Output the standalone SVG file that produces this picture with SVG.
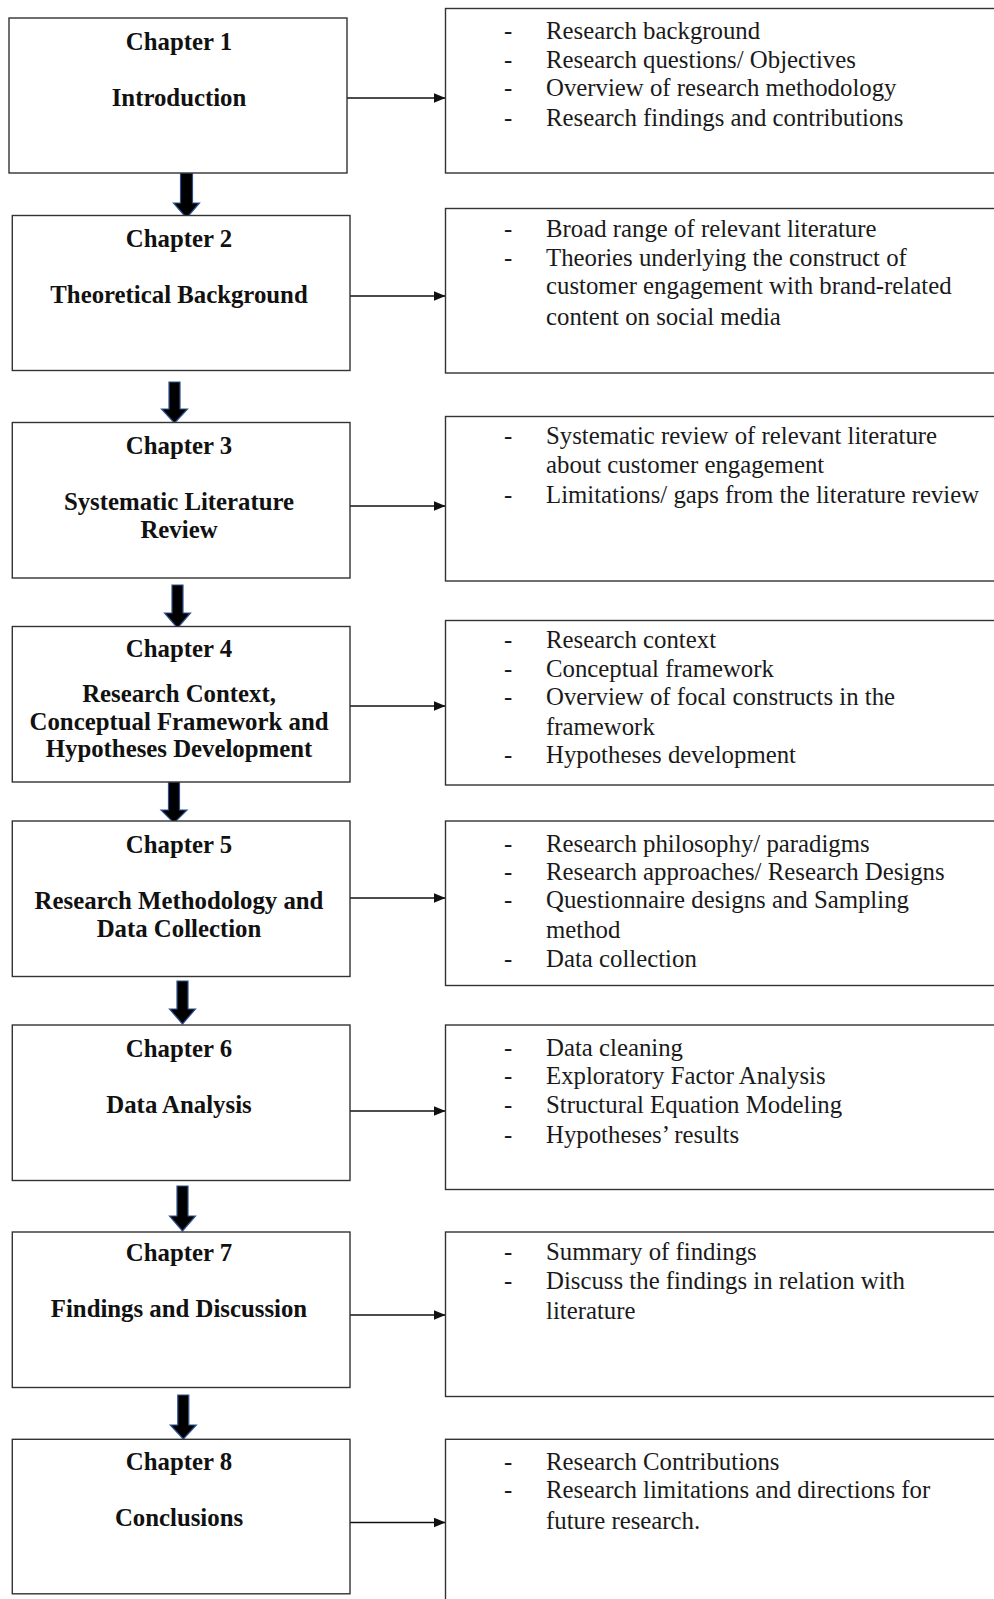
<svg xmlns="http://www.w3.org/2000/svg" width="994" height="1599" viewBox="0 0 994 1599">
  <defs>
    <style>
      .box { fill: #ffffff; stroke: #333333; stroke-width: 1.4; }
      .title { font-family: "Liberation Serif", "Times New Roman", serif; font-weight: bold; font-size: 24.8px; fill: #111111; text-anchor: middle; }
      .item { font-family: "Liberation Serif", "Times New Roman", serif; font-size: 24.8px; fill: #1a1a1a; }
      .link { stroke: #111111; stroke-width: 1.4; fill: none; marker-end: url(#tip); }
      .flow { fill: #000000; stroke: #2f528f; stroke-width: 1.2; stroke-linejoin: miter; }
    </style>
    <marker id="tip" viewBox="0 0 12 10" refX="12" refY="5" markerWidth="12" markerHeight="10" markerUnits="userSpaceOnUse" orient="auto">
      <path d="M0,0 L12,5 L0,10 Z" fill="#111111"/>
    </marker>
  </defs>

  <rect width="994" height="1599" fill="#ffffff"/>

  <!-- connectors: chapter flow arrows and side links -->
  <g id="connectors">
    <path class="flow" d="M180.5,173 H192.5 V203 H199.5 L186.5,218 L173.5,203 H180.5 Z"/>
    <path class="flow" d="M169,382 H180 V409 H187.5 L174.5,423 L161.5,409 H169 Z"/>
    <path class="flow" d="M172,585 H183 V613 H190.5 L177.5,628 L164.5,613 H172 Z"/>
    <path class="flow" d="M168.5,782 H179.5 V810 H187 L174,823 L161,810 H168.5 Z"/>
    <path class="flow" d="M177,981 H188 V1009 H195.5 L182.5,1024 L169.5,1009 H177 Z"/>
    <path class="flow" d="M177,1186 H188 V1216 H195.5 L182.5,1231 L169.5,1216 H177 Z"/>
    <path class="flow" d="M177.8,1395 H188.8 V1425 H196.3 L183.3,1439 L170.3,1425 H177.8 Z"/>

    <line class="link" x1="347" y1="98" x2="445.5" y2="98"/>
    <line class="link" x1="350" y1="296" x2="445.5" y2="296"/>
    <line class="link" x1="350" y1="506" x2="445.5" y2="506"/>
    <line class="link" x1="350" y1="706" x2="445.5" y2="706"/>
    <line class="link" x1="350" y1="898" x2="445.5" y2="898"/>
    <line class="link" x1="350" y1="1111" x2="445.5" y2="1111"/>
    <line class="link" x1="350" y1="1315" x2="445.5" y2="1315"/>
    <line class="link" x1="350" y1="1522.5" x2="445.5" y2="1522.5"/>
  </g>

  <!-- chapter boxes -->
  <g id="ch1">
    <rect class="box" x="9" y="18" width="338" height="155"/>
    <text class="title" x="179" y="49.5">Chapter 1</text>
    <text class="title" x="179" y="106">Introduction</text>
  </g>
  <g id="ch2">
    <rect class="box" x="12.3" y="215.5" width="337.7" height="155"/>
    <text class="title" x="179" y="247">Chapter 2</text>
    <text class="title" x="179" y="303">Theoretical Background</text>
  </g>
  <g id="ch3">
    <rect class="box" x="12.3" y="422.5" width="337.7" height="155.5"/>
    <text class="title" x="179" y="453.5">Chapter 3</text>
    <text class="title" x="179" y="509.5">Systematic Literature</text>
    <text class="title" x="179" y="537.5">Review</text>
  </g>
  <g id="ch4">
    <rect class="box" x="12.3" y="626.5" width="337.7" height="155.5"/>
    <text class="title" x="179" y="657">Chapter 4</text>
    <text class="title" x="179" y="701.5">Research Context,</text>
    <text class="title" x="179" y="729.5">Conceptual Framework and</text>
    <text class="title" x="179" y="757">Hypotheses Development</text>
  </g>
  <g id="ch5">
    <rect class="box" x="12.3" y="821" width="337.7" height="155.5"/>
    <text class="title" x="179" y="852.5">Chapter 5</text>
    <text class="title" x="179" y="908.5">Research Methodology and</text>
    <text class="title" x="179" y="937">Data Collection</text>
  </g>
  <g id="ch6">
    <rect class="box" x="12.3" y="1025" width="337.7" height="155.5"/>
    <text class="title" x="179" y="1056.5">Chapter 6</text>
    <text class="title" x="179" y="1112.5">Data Analysis</text>
  </g>
  <g id="ch7">
    <rect class="box" x="12.3" y="1232" width="337.7" height="155.5"/>
    <text class="title" x="179" y="1260.5">Chapter 7</text>
    <text class="title" x="179" y="1316.5">Findings and Discussion</text>
  </g>
  <g id="ch8">
    <rect class="box" x="12.3" y="1439.3" width="337.7" height="154.5"/>
    <text class="title" x="179" y="1470">Chapter 8</text>
    <text class="title" x="179" y="1526">Conclusions</text>
  </g>

  <!-- content boxes -->
  <g id="ch1-content">
    <rect class="box" x="445.5" y="8.5" width="560" height="164.5"/>
    <text class="item" x="504" y="39">-</text><text class="item" x="546" y="39">Research background</text>
    <text class="item" x="504" y="67.5">-</text><text class="item" x="546" y="67.5">Research questions/ Objectives</text>
    <text class="item" x="504" y="96">-</text><text class="item" x="546" y="96">Overview of research methodology</text>
    <text class="item" x="504" y="126">-</text><text class="item" x="546" y="126">Research findings and contributions</text>
  </g>
  <g id="ch2-content">
    <rect class="box" x="445.5" y="208.5" width="560" height="164.5"/>
    <text class="item" x="504" y="237">-</text><text class="item" x="546" y="237">Broad range of relevant literature</text>
    <text class="item" x="504" y="265.5">-</text><text class="item" x="546" y="265.5">Theories underlying the construct of</text>
    <text class="item" x="546" y="294">customer engagement with brand-related</text>
    <text class="item" x="546" y="324.5">content on social media</text>
  </g>
  <g id="ch3-content">
    <rect class="box" x="445.5" y="416.5" width="560" height="164.5"/>
    <text class="item" x="504" y="443.5">-</text><text class="item" x="546" y="443.5">Systematic review of relevant literature</text>
    <text class="item" x="546" y="472.5">about customer engagement</text>
    <text class="item" x="504" y="503">-</text><text class="item" x="546" y="503">Limitations/ gaps from the literature review</text>
  </g>
  <g id="ch4-content">
    <rect class="box" x="445.5" y="620.5" width="560" height="164.5"/>
    <text class="item" x="504" y="648">-</text><text class="item" x="546" y="648">Research context</text>
    <text class="item" x="504" y="676.5">-</text><text class="item" x="546" y="676.5">Conceptual framework</text>
    <text class="item" x="504" y="705">-</text><text class="item" x="546" y="705">Overview of focal constructs in the</text>
    <text class="item" x="546" y="735">framework</text>
    <text class="item" x="504" y="763">-</text><text class="item" x="546" y="763">Hypotheses development</text>
  </g>
  <g id="ch5-content">
    <rect class="box" x="445.5" y="821" width="560" height="164.5"/>
    <text class="item" x="504" y="851.5">-</text><text class="item" x="546" y="851.5">Research philosophy/ paradigms</text>
    <text class="item" x="504" y="880">-</text><text class="item" x="546" y="880">Research approaches/ Research Designs</text>
    <text class="item" x="504" y="908.3">-</text><text class="item" x="546" y="908.3">Questionnaire designs and Sampling</text>
    <text class="item" x="546" y="938.3">method</text>
    <text class="item" x="504" y="966.5">-</text><text class="item" x="546" y="966.5">Data collection</text>
  </g>
  <g id="ch6-content">
    <rect class="box" x="445.5" y="1025" width="560" height="164.5"/>
    <text class="item" x="504" y="1055.5">-</text><text class="item" x="546" y="1055.5">Data cleaning</text>
    <text class="item" x="504" y="1084">-</text><text class="item" x="546" y="1084">Exploratory Factor Analysis</text>
    <text class="item" x="504" y="1112.5">-</text><text class="item" x="546" y="1112.5">Structural Equation Modeling</text>
    <text class="item" x="504" y="1143">-</text><text class="item" x="546" y="1143">Hypotheses’ results</text>
  </g>
  <g id="ch7-content">
    <rect class="box" x="445.5" y="1232" width="560" height="164.5"/>
    <text class="item" x="504" y="1260">-</text><text class="item" x="546" y="1260">Summary of findings</text>
    <text class="item" x="504" y="1288.5">-</text><text class="item" x="546" y="1288.5">Discuss the findings in relation with</text>
    <text class="item" x="546" y="1319">literature</text>
  </g>
  <g id="ch8-content">
    <rect class="box" x="445.5" y="1439.3" width="560" height="180"/>
    <text class="item" x="504" y="1470">-</text><text class="item" x="546" y="1470">Research Contributions</text>
    <text class="item" x="504" y="1498.3">-</text><text class="item" x="546" y="1498.3">Research limitations and directions for</text>
    <text class="item" x="546" y="1529.3">future research.</text>
  </g>
</svg>
